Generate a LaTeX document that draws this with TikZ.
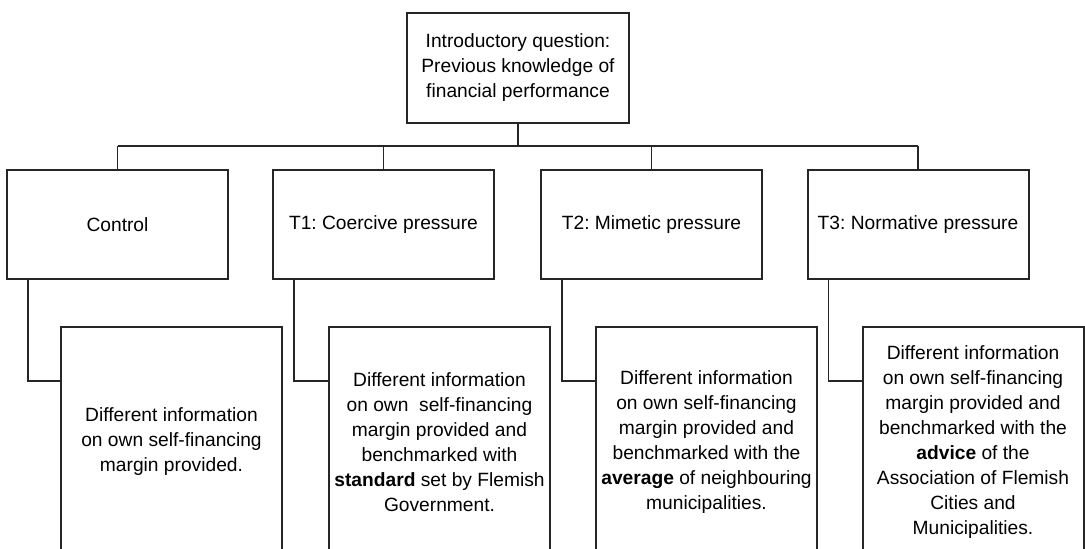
\documentclass[tikz,border=0pt]{standalone}
\usepackage{fontspec}
\setmainfont{Liberation Sans}
\usetikzlibrary{positioning}
\frenchspacing

\begin{document}
\begin{tikzpicture}[x=0.5pt,y=-0.5pt,
  every node/.style={draw=black!85,line width=1pt,align=center,inner sep=0pt,
    font=\fontsize{9.6}{12.5}\selectfont},
  head/.style={minimum width=110.5pt,minimum height=54.5pt},
  info/.style={minimum width=110.5pt,minimum height=115pt},
  link/.style={draw=black!85,line width=0.6pt}]

\useasboundingbox (0,0) rectangle (1085,549);
\clip (0,0) rectangle (1085,549);

\node[minimum width=111pt,minimum height=55pt] (q) at (518,68) {Introductory question:\\Previous knowledge of\\financial performance};

\node[head] (c0) at (117.5,224.5) {Control};
\node[head] (c1) at (383.5,224.5) {T1: Coercive pressure};
\node[head] (c2) at (651.5,224.5) {T2: Mimetic pressure};
\node[head] (c3) at (918,224.5) {T3: Normative pressure};

\node[info] (i0) at (171.5,442) {Different information\\on own self-financing\\margin provided.};
\node[info] (i1) at (439.5,442) {Different information\\on own~ self-financing\\margin provided and\\benchmarked with\\\textbf{standard} set by Flemish\\Government.};
\node[info] (i2) at (706.5,442) {Different information\\on own self-financing\\margin provided and\\benchmarked with the\\\textbf{average} of neighbouring\\municipalities.};
\node[info] (i3) at (973,442) {Different information\\on own self-financing\\margin provided and\\benchmarked with the\\\textbf{advice} of the\\Association of Flemish\\Cities and\\Municipalities.};

\coordinate (bus) at (517,146);
\draw[link,line width=1.3pt] (q.south) -- (q.south |- bus);
\draw[link] (c0.north |- bus) -- (c3.north |- bus);

\foreach \k in {0,...,3}
	\draw[link] (c\k.north |- bus) -- (c\k.north);
\foreach \k in {0,...,3}
	\draw[link] ([xshift=11pt]c\k.south west) |- ([yshift=30.5pt]i\k.west);

\end{tikzpicture}
\end{document}
